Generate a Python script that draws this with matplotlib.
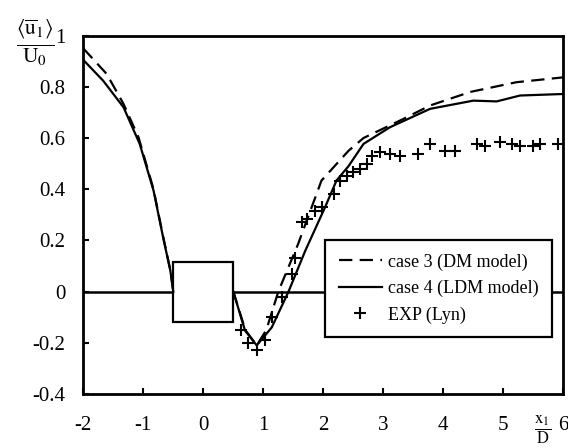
import matplotlib
matplotlib.use("Agg")
import matplotlib.pyplot as plt
from matplotlib.patches import Rectangle

plt.rcParams['font.family'] = ['Liberation Serif', 'DejaVu Serif']
plt.rcParams['mathtext.fontset'] = 'stix'

# case 3 (DM model) - dashed
dm_up_x = [-2.0, -1.61, -1.33, -1.08, -0.83, -0.67, -0.55, -0.5]
dm_up_y = [0.95, 0.85, 0.733, 0.603, 0.40, 0.215, 0.085, 0.0]
dm_dn_x = [0.5, 0.70, 0.89, 1.05, 1.25, 1.58, 1.97, 2.42, 2.67, 3.33, 3.78, 4.45, 5.22, 6.0]
dm_dn_y = [0.0, -0.15, -0.21, -0.15, 0.0, 0.186, 0.434, 0.55, 0.60, 0.674, 0.727, 0.78, 0.818, 0.837]

# case 4 (LDM model) - solid
ldm_up_x = [-2.0, -1.67, -1.33, -1.06, -0.83, -0.67, -0.55, -0.5]
ldm_up_y = [0.905, 0.824, 0.72, 0.577, 0.395, 0.212, 0.082, 0.0]
ldm_dn_x = [0.5, 0.695, 0.89, 1.14, 1.42, 1.70, 2.03, 2.22, 2.42, 2.67, 3.11, 3.78, 4.5, 4.89, 5.28, 6.0]
ldm_dn_y = [0.0, -0.152, -0.21, -0.14, 0.0, 0.16, 0.33, 0.434, 0.49, 0.577, 0.642, 0.714, 0.746, 0.743, 0.766, 0.772]

# EXP (Lyn)
exp_x = [0.62, 0.75, 0.89, 1.03, 1.14, 1.31, 1.47, 1.53, 1.64, 1.72, 1.86, 1.97, 2.17, 2.28, 2.39,
         2.50, 2.61, 2.72, 2.81, 2.94, 3.11, 3.28, 3.58, 3.78, 4.03, 4.20, 4.56, 4.70, 4.94,
         5.14, 5.28, 5.50, 5.62, 5.92]
exp_y = [-0.15, -0.20, -0.23, -0.19, -0.10, -0.02, 0.07, 0.13, 0.27, 0.284, 0.316, 0.33, 0.38, 0.434, 0.453,
         0.466, 0.479, 0.50, 0.53, 0.544, 0.538, 0.53, 0.538, 0.577, 0.55, 0.55, 0.577, 0.57, 0.583,
         0.577, 0.57, 0.57, 0.575, 0.577]

# obstacle (square cylinder)
obst_x0, obst_x1 = -0.5, 0.5
obst_y0, obst_y1 = -0.117, 0.117

xticks = [-2, -1, 0, 1, 2, 3, 4, 5, 6]
yticks = [-0.4, -0.2, 0, 0.2, 0.4, 0.6, 0.8, 1.0]
yticklabels = ['-0.4', '-0.2', '0', '0.2', '0.4', '0.6', '0.8', '1']

fig = plt.figure(figsize=(5.68, 4.48), dpi=100)
ax = fig.add_axes([0.1467, 0.1205, 0.8450, 0.8000])

ax.axhline(0, color='black', lw=1.8, zorder=1)
ax.add_patch(Rectangle((obst_x0, obst_y0), obst_x1 - obst_x0, obst_y1 - obst_y0,
                       facecolor='white', edgecolor='black', lw=1.6, zorder=2))

dash = (0, (6, 3.3))
ax.plot(dm_up_x, dm_up_y, color='black', lw=1.6, ls=dash, zorder=3)
l1, = ax.plot(dm_dn_x, dm_dn_y, color='black', lw=1.6, ls=dash, zorder=3,
              label='case 3 (DM model)')
ax.plot(ldm_up_x, ldm_up_y, color='black', lw=1.6, zorder=3)
l2, = ax.plot(ldm_dn_x, ldm_dn_y, color='black', lw=1.6, zorder=3,
              label='case 4 (LDM model)')
l3, = ax.plot(exp_x, exp_y, ls='none', marker='+', ms=9, mew=1.5, color='black',
              zorder=4, label='EXP (Lyn)')

ax.set_xlim(-2, 6)
ax.set_ylim(-0.4, 1.0)
ax.set_xticks(xticks)
ax.set_xticklabels([str(t) for t in xticks])
ax.set_yticks(yticks)
ax.set_yticklabels(yticklabels)
ax.tick_params(axis='both', direction='in', length=4, width=1.5, labelsize=15)
ax.tick_params(axis='x', pad=16)
ax.tick_params(axis='y', pad=13)
for s in ax.spines.values():
    s.set_linewidth(2)

leg = ax.legend(handles=[l1, l2, l3], loc='upper left', bbox_to_anchor=(0.5035, 0.4297),
                borderaxespad=0, frameon=True, fancybox=False, edgecolor='black',
                framealpha=1, fontsize=13, handlelength=2.4, handletextpad=0.35,
                labelspacing=0.5, borderpad=0.75)
leg.get_frame().set_linewidth(1.6)
leg.set_zorder(5)

fig.text(35 / 568, 1 - 43 / 448, r'$\frac{\langle\overline{\mathrm{u}}_1\rangle}{\mathrm{U}_0}$',
         fontsize=22, ha='center', va='center')
fig.text(543 / 568, 1 - 430 / 448, r'$\frac{\mathrm{x}_1}{\mathrm{D}}$',
         fontsize=17, ha='center', va='center')

fig.savefig('out.png', dpi=100)
